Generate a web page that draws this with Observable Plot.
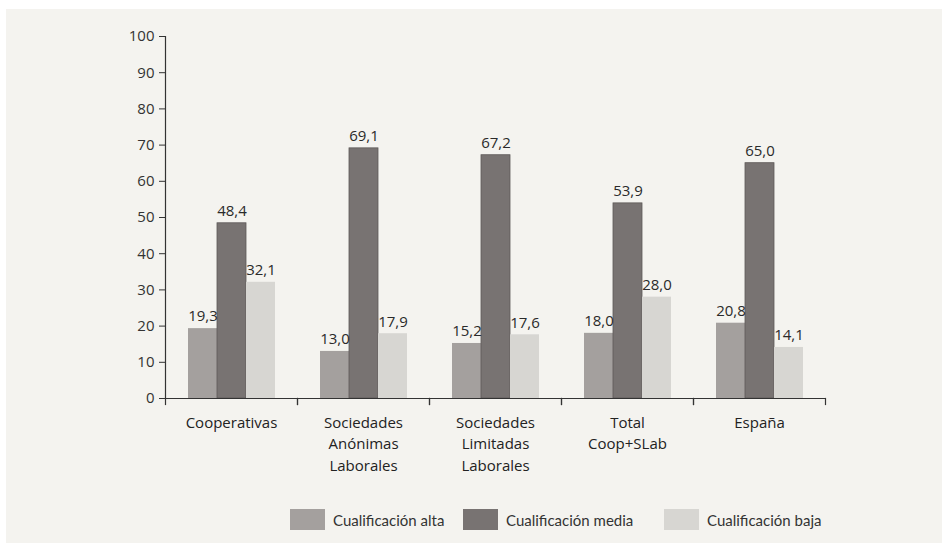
<!DOCTYPE html>
<html>
<head>
<meta charset="utf-8">
<script src="https://cdn.jsdelivr.net/npm/d3@7"></script>
<script src="https://cdn.jsdelivr.net/npm/@observablehq/plot@0.6"></script>
<style>
  html, body { margin: 0; padding: 0; background: #ffffff; }
  #panel { position: absolute; left: 6px; top: 9px; width: 936px; height: 534px; background: #f4f3ef; overflow: hidden; }
  #chart svg { display: block; }
  #legend { position: absolute; left: 284px; top: 500px; }
  #legend .lg-swatches { font-family: Lato, sans-serif; font-size: 15px; color: #333; min-height: 0; margin: 0; flex-wrap: nowrap; }
  #legend .lg-swatch { margin-right: 0 !important; }
  #legend .lg-swatch:nth-of-type(1) { width: 173px; }
  #legend .lg-swatch:nth-of-type(2) { width: 201px; }
  #legend .lg-swatch svg { margin-right: 8px !important; }
</style>
</head>
<body>
<div id="panel">
  <div id="chart"></div>
  <div id="legend"></div>
</div>
<script>
const categories = ["Cooperativas", "Sociedades\nAnónimas\nLaborales", "Sociedades\nLimitadas\nLaborales", "Total\nCoop+SLab", "España"];
const series = ["Cualificación alta", "Cualificación media", "Cualificación baja"];
const alta  = [19.3, 13.0, 15.2, 18.0, 20.8];
const media = [48.4, 69.1, 67.2, 53.9, 65.0];
const baja  = [32.1, 17.9, 17.6, 28.0, 14.1];
const colors = ["#a4a09e", "#787372", "#d7d6d2"];
const yTicks = [0, 10, 20, 30, 40, 50, 60, 70, 80, 90, 100];

const valuesBySeries = [alta, media, baja];
const rows = [];
categories.forEach((cat, i) => {
  series.forEach((s, j) => rows.push({cat, serie: s, value: valuesBySeries[j][i]}));
});
const fmt = v => v.toFixed(1).replace(".", ",");

const W = 936, H = 470, MT = 27, MB = 81;
const plotH = H - MT - MB;

const chart = Plot.plot({
  width: W, height: H,
  marginTop: MT, marginBottom: MB, marginLeft: 157, marginRight: 115,
  style: {background: "transparent", fontFamily: "'Open Sans', sans-serif", fontSize: "15px", color: "#333"},
  fx: {domain: categories, padding: 0, label: null},
  x: {domain: series, paddingInner: 0, paddingOuter: 0.72, axis: null},
  y: {domain: [0, 100], axis: null},
  color: {domain: series, range: colors},
  marks: [
    Plot.barY(rows, {fx: "cat", x: "serie", y: "value", fill: "serie",
      stroke: d => d.serie === series[1] ? "#5c5857" : "none", strokeWidth: 0.8}),
    Plot.text(rows, {fx: "cat", x: "serie", y: "value", text: d => fmt(d.value), dy: -12,
      fill: "#2a2a2a", fontSize: 15}),
    Plot.axisY({ticks: yTicks, tickSize: 6, tickPadding: 5, stroke: "#333", fill: "#333", fontSize: 15, label: null}),
    Plot.axisFx({anchor: "bottom", tickSize: 0, tickPadding: 14, lineAnchor: "top", lineHeight: 1.43,
      fill: "#222", fontSize: 15, label: null}),
    Plot.ruleY([0], {stroke: "#333", strokeWidth: 1.2}),
    Plot.frame({anchor: "left", facetAnchor: "left", stroke: "#333", strokeWidth: 1.2}),
    Plot.frame({anchor: "left", insetTop: plotH, insetBottom: -6, stroke: "#333", strokeWidth: 1.2}),
    Plot.frame({anchor: "right", insetTop: plotH, insetBottom: -6, stroke: "#333", strokeWidth: 1.2})
  ]
});
document.getElementById("chart").appendChild(chart);

const legend = Plot.legend({color: {domain: series, range: colors}, swatchWidth: 35, swatchHeight: 21, className: "lg"});
document.getElementById("legend").appendChild(legend);
</script>
</body>
</html>
